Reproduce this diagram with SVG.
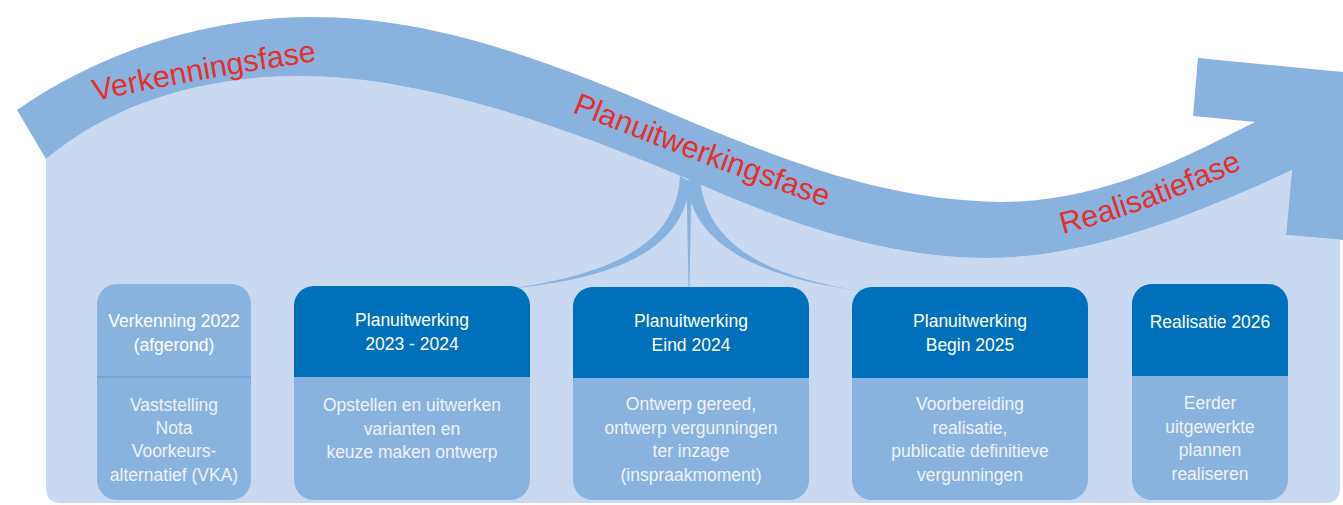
<svg xmlns="http://www.w3.org/2000/svg" xmlns:xlink="http://www.w3.org/1999/xlink" width="1343" height="505" viewBox="0 0 1343 505">
<style>
.bg{fill:#c8d9f1}
.band{fill:#8ab2df}
.con{fill:#8ab2df}
.body{fill:#8ab2df}
.head{fill:#0070bb}
.div{stroke:#5f93cf;stroke-width:1.2}
.phase{font-family:"Liberation Sans",Arial,sans-serif;font-size:30.5px;fill:#e4302b}
.t{font-family:"Liberation Sans",Arial,sans-serif;font-size:17.5px;fill:#ffffff;text-anchor:middle}
.b{fill:#eef3fb}
</style>
<defs>
<path id="p1" d="M95,101 Q205,77 325,60"/>
<path id="p2" d="M572,112 Q690,160 835,210"/>
<path id="p3" d="M1063,234 Q1150,212 1248,166"/>
</defs>
<g id="background">
<path class="bg" d="M46,159 C110,105 200,76 300,76 C420,76 560,125 683,177 C780,220 880,258 987,258 C1080,258 1180,222 1292,170 L1286,235 L1340,240 L1340,488 Q1340,503 1325,503 L61,503 Q46,503 46,488 Z"/>
</g>
<g id="connectors">
<path class="con" d="M680,176 C677,240 620,272 515,288 C625,277 685,245 690,182 Z"/>
<path class="con" d="M686.5,180 L691.5,180 L689.5,287 L688.5,287 Z"/>
<path class="con" d="M687,182 C692,245 760,278 862,291 C765,276 706,245 700,178 Z"/>
</g>
<g id="band">
<path class="band" d="M17,110 C110,45 220,17 310,17 C420,17 520,50 640,100 C780,160 880,200 1000,202 C1100,202 1180,160 1255,122 L1193,116 L1198,58 L1343,72 L1343,240 L1286,235 L1292,170 C1180,222 1080,258 987,258 C880,258 780,220 683,177 C560,125 420,76 300,76 C200,76 110,105 46,159 Z"/>
</g>
<g id="label-verkenningsfase"><text class="phase"><textPath xlink:href="#p1" href="#p1">Verkenningsfase</textPath></text></g>
<g id="label-planuitwerkingsfase"><text class="phase"><textPath xlink:href="#p2" href="#p2">Planuitwerkingsfase</textPath></text></g>
<g id="label-realisatiefase"><text class="phase"><textPath xlink:href="#p3" href="#p3">Realisatiefase</textPath></text></g>

<g id="box1">
<rect class="body" x="97" y="284" width="154" height="216" rx="20"/>
<line class="div" x1="97" y1="377" x2="251" y2="377"/>
<text class="t" x="174" y="327">Verkenning 2022</text>
<text class="t" x="174" y="351">(afgerond)</text>
<text class="t b" x="174" y="411">Vaststelling</text>
<text class="t b" x="174" y="434">Nota</text>
<text class="t b" x="174" y="457">Voorkeurs-</text>
<text class="t b" x="174" y="481">alternatief (VKA)</text>
</g>

<g id="box2">
<rect class="body" x="294" y="286" width="236" height="214" rx="20"/>
<path class="head" d="M294,377 L294,306 A20,20 0 0 1 314,286 L510,286 A20,20 0 0 1 530,306 L530,377 Z"/>
<text class="t" x="412" y="326">Planuitwerking</text>
<text class="t" x="412" y="350">2023 - 2024</text>
<text class="t b" x="412" y="411">Opstellen en uitwerken</text>
<text class="t b" x="412" y="435">varianten en</text>
<text class="t b" x="412" y="458">keuze maken ontwerp</text>
</g>

<g id="box3">
<rect class="body" x="573" y="287" width="236" height="213" rx="20"/>
<path class="head" d="M573,378 L573,307 A20,20 0 0 1 593,287 L789,287 A20,20 0 0 1 809,307 L809,378 Z"/>
<text class="t" x="691" y="327">Planuitwerking</text>
<text class="t" x="691" y="351">Eind 2024</text>
<text class="t b" x="691" y="410">Ontwerp gereed,</text>
<text class="t b" x="691" y="434">ontwerp vergunningen</text>
<text class="t b" x="691" y="457">ter inzage</text>
<text class="t b" x="691" y="481">(inspraakmoment)</text>
</g>

<g id="box4">
<rect class="body" x="852" y="287" width="236" height="213" rx="20"/>
<path class="head" d="M852,378 L852,307 A20,20 0 0 1 872,287 L1068,287 A20,20 0 0 1 1088,307 L1088,378 Z"/>
<text class="t" x="970" y="327">Planuitwerking</text>
<text class="t" x="970" y="351">Begin 2025</text>
<text class="t b" x="970" y="410">Voorbereiding</text>
<text class="t b" x="970" y="434">realisatie,</text>
<text class="t b" x="970" y="457">publicatie definitieve</text>
<text class="t b" x="970" y="481">vergunningen</text>
</g>

<g id="box5">
<rect class="body" x="1132" y="284" width="156" height="216" rx="20"/>
<path class="head" d="M1132,376 L1132,304 A20,20 0 0 1 1152,284 L1268,284 A20,20 0 0 1 1288,304 L1288,376 Z"/>
<text class="t" x="1210" y="328">Realisatie 2026</text>
<text class="t b" x="1210" y="409">Eerder</text>
<text class="t b" x="1210" y="433">uitgewerkte</text>
<text class="t b" x="1210" y="456">plannen</text>
<text class="t b" x="1210" y="480">realiseren</text>
</g>
</svg>
